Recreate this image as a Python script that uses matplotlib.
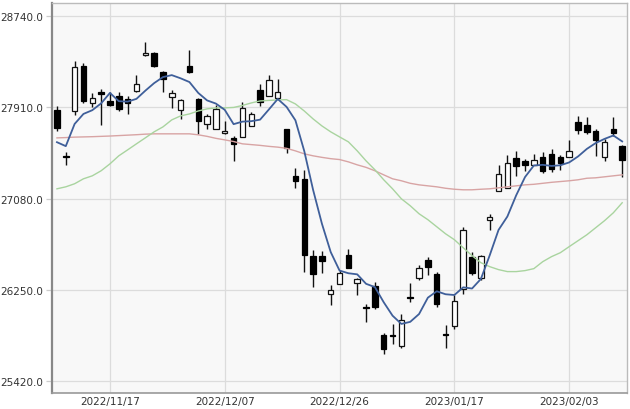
import matplotlib
matplotlib.use("Agg")
import matplotlib.pyplot as plt
import numpy as np

dates = [
    "2022/11/09", "2022/11/10", "2022/11/11", "2022/11/14", "2022/11/15", "2022/11/16",
    "2022/11/17", "2022/11/18", "2022/11/21", "2022/11/22", "2022/11/24", "2022/11/25",
    "2022/11/28", "2022/11/29", "2022/11/30", "2022/12/01", "2022/12/02", "2022/12/05",
    "2022/12/06", "2022/12/07", "2022/12/08", "2022/12/09", "2022/12/12", "2022/12/13",
    "2022/12/14", "2022/12/15", "2022/12/16", "2022/12/19", "2022/12/20", "2022/12/21",
    "2022/12/22", "2022/12/23", "2022/12/26", "2022/12/27", "2022/12/28", "2022/12/29",
    "2022/12/30", "2023/01/04", "2023/01/05", "2023/01/06", "2023/01/10", "2023/01/11",
    "2023/01/12", "2023/01/13", "2023/01/16", "2023/01/17", "2023/01/18", "2023/01/19",
    "2023/01/20", "2023/01/23", "2023/01/24", "2023/01/25", "2023/01/26", "2023/01/27",
    "2023/01/30", "2023/01/31", "2023/02/01", "2023/02/02", "2023/02/03", "2023/02/06",
    "2023/02/07", "2023/02/08", "2023/02/09", "2023/02/10", "2023/02/13",
]

opens = [27889, 27468, 27875, 28289, 27950, 28047, 27965, 28017, 27989, 28062,
         28382, 28404, 28229, 28000, 27889, 28283, 27986, 27759, 27714, 27675,
         27629, 27638, 27744, 28071, 28011, 27993, 27714, 27287, 27262, 26558,
         26555, 26210, 26307, 26568, 26316, 26095, 26286, 25837, 25840, 25741,
         26185, 26361, 26524, 26397, 25843, 25922, 26255, 26549, 26358, 26888,
         27150, 27175, 27451, 27426, 27390, 27462, 27487, 27457, 27462, 27775,
         27750, 27693, 27457, 27714, 27557]
highs = [27926, 27502, 28334, 28313, 28041, 28077, 28047, 28047, 28017, 28207,
         28507, 28410, 28243, 28066, 27985, 28434, 27995, 27850, 27932, 27789,
         27647, 27962, 27871, 28123, 28204, 28168, 27714, 27354, 27340, 26609,
         26600, 26291, 26427, 26624, 26358, 26125, 26322, 25853, 25943, 26034,
         26316, 26473, 26549, 26413, 25934, 26200, 26822, 26594, 26567, 26942,
         27387, 27478, 27509, 27442, 27487, 27502, 27532, 27478, 27617, 27835,
         27820, 27714, 27623, 27820, 27563]
lows = [27699, 27381, 27844, 27950, 27911, 27753, 27926, 27880, 27850, 28047,
        28380, 28274, 28053, 27905, 27805, 28225, 27669, 27714, 27714, 27669,
        27426, 27638, 27738, 27920, 28011, 27993, 27496, 27172, 26416, 26277,
        26406, 26110, 26307, 26447, 26200, 25959, 26080, 25671, 25756, 25725,
        26140, 26337, 26388, 26095, 25723, 25898, 26216, 26382, 26340, 26791,
        27150, 27175, 27290, 27335, 27381, 27314, 27326, 27344, 27462, 27669,
        27669, 27471, 27426, 27653, 27276]
closes = [27720, 27458, 28274, 27971, 27995, 28032, 27935, 27896, 27950, 28123,
          28400, 28283, 28168, 28042, 27977, 28229, 27789, 27829, 27896, 27693,
          27578, 27905, 27850, 27962, 28162, 28053, 27541, 27242, 26568, 26398,
          26509, 26246, 26406, 26447, 26346, 26082, 26095, 25716, 25834, 25973,
          26179, 26449, 26458, 26125, 25837, 26146, 26797, 26406, 26558, 26912,
          27302, 27405, 27372, 27390, 27435, 27335, 27351, 27405, 27517, 27705,
          27684, 27614, 27593, 27675, 27432]

ma_short = [27593, 27557, 27759, 27850, 27884, 27946, 28041, 27966, 27962, 27987,
            28061, 28130, 28185, 28203, 28174, 28140, 28041, 27973, 27944, 27887,
            27757, 27780, 27784, 27798, 27891, 27986, 27914, 27792, 27513, 27160,
            26852, 26593, 26425, 26401, 26391, 26305, 26275, 26137, 26015, 25940,
            25959, 26030, 26179, 26237, 26210, 26203, 26273, 26262, 26349, 26564,
            26795, 26917, 27110, 27276, 27381, 27387, 27377, 27383, 27409, 27463,
            27532, 27585, 27623, 27654, 27600]
ma_mid = [27169, 27187, 27215, 27260, 27287, 27333, 27396, 27469, 27523, 27578,
          27632, 27687, 27732, 27796, 27832, 27850, 27877, 27896, 27905, 27905,
          27909, 27927, 27950, 27968, 27973, 27977, 27980, 27941, 27877, 27805,
          27741, 27687, 27641, 27596, 27514, 27423, 27342, 27251, 27169, 27078,
          27015, 26942, 26888, 26824, 26760, 26706, 26633, 26561, 26497, 26461,
          26434, 26416, 26416, 26425, 26443, 26506, 26552, 26588, 26643, 26697,
          26751, 26815, 26879, 26951, 27042]
ma_long = [27632, 27635, 27639, 27641, 27643, 27646, 27649, 27653, 27657, 27661,
           27666, 27669, 27669, 27669, 27669, 27669, 27660, 27646, 27628, 27614,
           27599, 27578, 27571, 27564, 27555, 27548, 27537, 27514, 27487, 27469,
           27455, 27443, 27435, 27414, 27387, 27364, 27333, 27296, 27260, 27242,
           27219, 27205, 27196, 27187, 27174, 27165, 27160, 27160, 27165, 27169,
           27178, 27187, 27196, 27205, 27210, 27219, 27228, 27235, 27242, 27251,
           27265, 27269, 27278, 27287, 27296]

tick_dates = ["2022/11/17", "2022/12/07", "2022/12/26", "2023/01/17", "2023/02/03"]
y_ticks = [25420.0, 26250.0, 27080.0, 27910.0, 28740.0]

fig = plt.figure(figsize=(6.3, 4.1), dpi=100)
ax = fig.add_axes([0.082, 0.038, 0.914, 0.952])
ax.set_facecolor("#f8f8f8")

x = np.arange(len(dates))
o = np.array(opens, dtype=float)
c = np.array(closes, dtype=float)
h = np.array(highs, dtype=float)
l = np.array(lows, dtype=float)
up = c >= o

ax.vlines(x, l, h, color="#111111", linewidth=1.0, zorder=3)
bottoms = np.minimum(o, c)
heights = np.maximum(np.abs(c - o), 8)
ax.bar(x[up], heights[up], bottom=bottoms[up], width=0.62, color="white",
       edgecolor="#111111", linewidth=0.9, zorder=4)
ax.bar(x[~up], heights[~up], bottom=bottoms[~up], width=0.62, color="#000000",
       edgecolor="#000000", linewidth=0.9, zorder=4)

ax.plot(x, ma_long, color="#d8a4a4", linewidth=1.0, zorder=5)
ax.plot(x, ma_mid, color="#a9d49f", linewidth=1.0, zorder=5)
ax.plot(x, ma_short, color="#3f5f9a", linewidth=1.3, zorder=6)

ax.set_xlim(-0.6, 64.6)
ax.set_ylim(25308, 28858)

ax.set_yticks(y_ticks)
ax.set_yticklabels([f"{v:.1f}" for v in y_ticks])
ax.set_xticks([dates.index(d) for d in tick_dates])
ax.set_xticklabels(tick_dates)

ax.grid(True, color="#dcdcdc", linewidth=0.9, zorder=0)
ax.set_axisbelow(True)
ax.tick_params(axis="y", length=4, width=0.9, color="#cccccc", labelsize=7.5,
               labelcolor="#333333", pad=2)
ax.tick_params(axis="x", length=0, labelsize=7.5, labelcolor="#333333", pad=2)

for side in ["top", "right"]:
    ax.spines[side].set_color("#bbbbbb")
    ax.spines[side].set_linewidth(1.0)
ax.spines["left"].set_color("#888888")
ax.spines["left"].set_linewidth(1.6)
ax.spines["bottom"].set_color("#999999")
ax.spines["bottom"].set_linewidth(1.2)

fig.savefig("out.png", dpi=100)
